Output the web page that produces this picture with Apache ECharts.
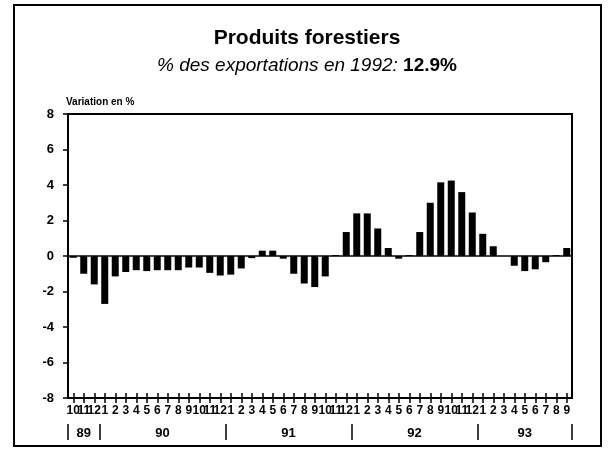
<!DOCTYPE html>
<html>
<head>
<meta charset="utf-8">
<script src="https://cdn.jsdelivr.net/npm/echarts@6/dist/echarts.min.js"></script>
<style>
  html, body { margin: 0; padding: 0; background: #fff; }
  #main { width: 614px; height: 453px; }
</style>
</head>
<body>
<div id="main"></div>
<script>
// mois, oct. 1989 - sept. 1993
const months = ['10', '11', '12',
  '1', '2', '3', '4', '5', '6', '7', '8', '9', '10', '11', '12',
  '1', '2', '3', '4', '5', '6', '7', '8', '9', '10', '11', '12',
  '1', '2', '3', '4', '5', '6', '7', '8', '9', '10', '11', '12',
  '1', '2', '3', '4', '5', '6', '7', '8', '9']
const years = ['89', '90', '91', '92', '93']
const monthsPerYear = [3, 12, 12, 12, 9]
// variation en %
const variation = [-0.1, -1.0, -1.6,
  -2.7, -1.15, -0.9, -0.8, -0.85, -0.8, -0.8, -0.8, -0.65, -0.65, -0.95, -1.1,
  -1.05, -0.7, -0.12, 0.3, 0.3, -0.15, -1.0, -1.55, -1.75, -1.15, 0.05, 1.35,
  2.4, 2.4, 1.55, 0.45, -0.15, 0.05, 1.35, 3.0, 4.15, 4.25, 3.6, 2.45,
  1.25, 0.55, 0.0, -0.55, -0.85, -0.75, -0.35, 0.05, 0.45]
const yTicks = [-8, -6, -4, -2, 0, 2, 4, 6, 8]

const font = "'Liberation Sans', Arial, sans-serif"

// axe des années : demi-mois, séparateurs aux changements d'année
const half = new Array(months.length * 2 + 1).fill('')
const seps = [0]
let start = 0
for (let i = 0; i < years.length; i++) {
  const end = start + monthsPerYear[i]
  half[start + end] = years[i]
  seps.push(end * 2)
  start = end
}

const chart = echarts.init(document.getElementById('main'), null, { renderer: 'canvas' })

chart.setOption({
  animation: false,
  textStyle: { fontFamily: font, color: '#000' },
  title: [
    {
      text: 'Produits forestiers',
      left: 'center',
      top: 23,
      textStyle: { fontFamily: font, fontSize: 21, fontWeight: 'bold', color: '#000' }
    },
    {
      text: '{it|% des exportations en 1992: }{bd|12.9%}',
      left: 'center',
      top: 51,
      textStyle: {
        fontWeight: 'normal',
        fontStyle: 'normal',
        rich: {
          it: { fontFamily: font, fontSize: 19, fontStyle: 'italic', fontWeight: 'normal', color: '#000' },
          bd: { fontFamily: font, fontSize: 19, fontStyle: 'normal', fontWeight: 'bold', color: '#000' }
        }
      }
    }
  ],
  graphic: [{
    type: 'rect',
    shape: { x: 14, y: 5, width: 587, height: 441 },
    style: { fill: null, stroke: '#000', lineWidth: 2 }
  }],
  grid: {
    left: 68, right: 42, top: 114, bottom: 55,
    show: true, borderColor: '#000', borderWidth: 2, backgroundColor: 'transparent'
  },
  xAxis: [
    {
      type: 'category',
      data: months,
      axisLine: { onZero: false, lineStyle: { color: '#000', width: 2 } },
      axisTick: { show: true, interval: 0, alignWithLabel: true, length: 5, lineStyle: { color: '#000', width: 1.5 } },
      axisLabel: { interval: 0, margin: 7, fontSize: 12, fontWeight: 'bold', color: '#000', fontFamily: font }
    },
    {
      // petits traits vers le haut : ticks en croix
      type: 'category',
      data: months,
      position: 'bottom',
      axisLine: { show: false, onZero: false },
      axisTick: { show: true, interval: 0, inside: true, alignWithLabel: true, length: 5, lineStyle: { color: '#000', width: 1.5 } },
      axisLabel: { show: false }
    },
    {
      type: 'category',
      data: half,
      boundaryGap: false,
      position: 'bottom',
      offset: 26,
      axisLine: { show: false, onZero: false },
      axisTick: {
        show: true,
        interval: (idx) => seps.includes(idx),
        length: 16,
        lineStyle: { color: '#000', width: 1.5 }
      },
      axisLabel: { interval: 0, margin: 3, fontSize: 13, fontWeight: 'bold', color: '#000', fontFamily: font }
    }
  ],
  yAxis: {
    type: 'value',
    min: yTicks[0],
    max: yTicks[yTicks.length - 1],
    interval: 2,
    name: 'Variation en %',
    nameLocation: 'end',
    nameGap: 7,
    nameTextStyle: { align: 'left', fontSize: 10, fontWeight: 'bold', color: '#000', fontFamily: font, padding: [0, 0, 0, -2] },
    axisLine: { show: true, lineStyle: { color: '#000', width: 2 } },
    axisTick: { show: true, length: 5, lineStyle: { color: '#000', width: 1.5 } },
    axisLabel: { margin: 14, fontSize: 13, fontWeight: 'bold', color: '#000', fontFamily: font },
    splitLine: { show: false }
  },
  series: [{
    type: 'bar',
    data: variation,
    barWidth: 7,
    itemStyle: { color: '#000' },
    markLine: {
      silent: true,
      symbol: 'none',
      label: { show: false },
      lineStyle: { color: '#000', type: 'solid', width: 1.5 },
      data: [{ yAxis: 0 }]
    }
  }]
})
</script>
</body>
</html>
